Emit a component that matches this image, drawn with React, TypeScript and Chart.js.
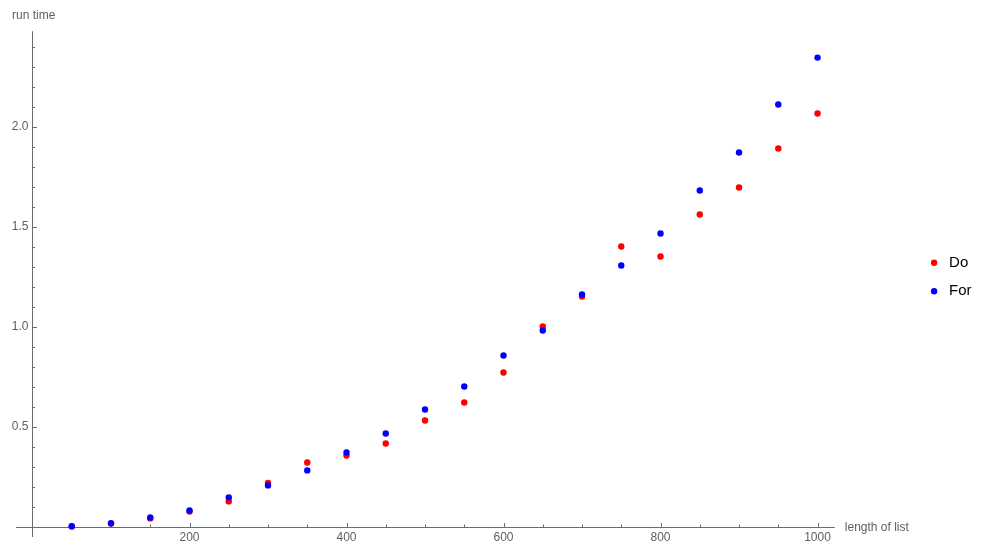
import { useEffect, useRef } from 'react';
import { Chart, registerables } from 'chart.js';

Chart.register(...registerables);

// ---- data ----
const listLengths = [50, 100, 150, 200, 250, 300, 350, 400, 450, 500, 550, 600, 650, 700, 750, 800, 850, 900, 950, 1000];
const doTimes = [0.003, 0.017, 0.043, 0.077, 0.128, 0.22, 0.323, 0.358, 0.418, 0.533, 0.623, 0.773, 1.003, 1.153, 1.403, 1.353, 1.563, 1.698, 1.893, 2.068];
const forTimes = [0.004, 0.019, 0.048, 0.083, 0.148, 0.208, 0.283, 0.373, 0.468, 0.588, 0.703, 0.858, 0.983, 1.163, 1.308, 1.468, 1.683, 1.873, 2.113, 2.348];
const seriesNames = ['Do', 'For'];
const xTickValues = [50, 100, 150, 200, 250, 300, 350, 400, 450, 500, 550, 600, 650, 700, 750, 800, 850, 900, 950, 1000];
const xLabelValues = [200, 400, 600, 800, 1000];
const yTickValues = [0.1, 0.2, 0.3, 0.4, 0.5, 0.6, 0.7, 0.8, 0.9, 1.0, 1.1, 1.2, 1.3, 1.4, 1.5, 1.6, 1.7, 1.8, 1.9, 2.0, 2.1, 2.2, 2.3, 2.4];
const yLabelValues = [0.5, 1.0, 1.5, 2.0];
const xAxisLabel = 'length of list';
const yAxisLabel = 'run time';
const xAxisExtent = [-21, 1022];
const yAxisExtent = [-0.05, 2.48];

const AXIS_COLOR = '#6b6b6b';
const TEXT_COLOR = '#5f5f5f';
const FONT_FAMILY = '"Liberation Sans", Arial, Helvetica, sans-serif';

const isLabelled = (v: number, list: number[]) => list.some((l) => Math.abs(l - v) < 1e-9);

const axesPlugin = {
  id: 'mmaAxes',
  beforeDatasetsDraw(chart: any) {
    const { ctx } = chart;
    const xs = chart.scales.x;
    const ys = chart.scales.y;
    const x0 = Math.floor(xs.getPixelForValue(0)) + 0.5;
    const y0 = Math.floor(ys.getPixelForValue(0)) + 0.5;
    ctx.save();
    ctx.strokeStyle = AXIS_COLOR;
    ctx.lineWidth = 1;
    ctx.beginPath();
    ctx.moveTo(xs.getPixelForValue(xAxisExtent[0]), y0);
    ctx.lineTo(xs.getPixelForValue(xAxisExtent[1]), y0);
    ctx.moveTo(x0, ys.getPixelForValue(yAxisExtent[0]));
    ctx.lineTo(x0, ys.getPixelForValue(yAxisExtent[1]));
    xTickValues.forEach((v) => {
      const px = Math.round(xs.getPixelForValue(v)) + 0.5;
      const len = isLabelled(v, xLabelValues) ? 4.5 : 3;
      ctx.moveTo(px, y0);
      ctx.lineTo(px, y0 - len);
    });
    yTickValues.forEach((v) => {
      const py = Math.round(ys.getPixelForValue(v)) + 0.5;
      const len = isLabelled(v, yLabelValues) ? 4.5 : 2.5;
      ctx.moveTo(x0, py);
      ctx.lineTo(x0 + len, py);
    });
    ctx.stroke();
    ctx.fillStyle = TEXT_COLOR;
    ctx.font = `12px ${FONT_FAMILY}`;
    ctx.textBaseline = 'middle';
    ctx.textAlign = 'left';
    ctx.fillText(yAxisLabel, 12, 16);
    ctx.fillText(xAxisLabel, xs.getPixelForValue(xAxisExtent[1]) + 10, y0);
    ctx.restore();
  },
};

export default function App() {
  const canvasRef = useRef<HTMLCanvasElement | null>(null);

  useEffect(() => {
    const canvas = canvasRef.current;
    if (!canvas) return;
    const chart = new Chart(canvas, {
      type: 'scatter',
      data: {
        datasets: [
          {
            label: seriesNames[0],
            data: listLengths.map((x, i) => ({ x, y: doTimes[i] })),
            backgroundColor: '#ff0000',
            borderColor: '#ff0000',
            borderWidth: 0,
            pointRadius: 3.2,
            pointHoverRadius: 3.2,
            pointStyle: 'circle',
            clip: false,
            order: 2,
          },
          {
            label: seriesNames[1],
            data: listLengths.map((x, i) => ({ x, y: forTimes[i] })),
            backgroundColor: '#0000ff',
            borderColor: '#0000ff',
            borderWidth: 0,
            pointRadius: 3.2,
            pointHoverRadius: 3.2,
            pointStyle: 'circle',
            clip: false,
            order: 1,
          },
        ],
      },
      options: {
        responsive: false,
        animation: false,
        events: [],
        layout: { padding: { left: 0, top: 11, right: 4.4, bottom: 16 } },
        scales: {
          x: {
            type: 'linear',
            position: 'bottom',
            min: 0,
            max: 1121.6,
            bounds: 'data',
            grid: { display: false, drawTicks: false },
            border: { display: false },
            afterBuildTicks: (scale: any) => {
              scale.ticks = xTickValues.map((value) => ({ value }));
            },
            afterFit: (scale: any) => {
              scale.height = 16;
            },
            ticks: {
              padding: 3,
              autoSkip: false,
              maxRotation: 0,
              color: TEXT_COLOR,
              font: { family: FONT_FAMILY, size: 12 },
              callback: (v: any) => (isLabelled(Number(v), xLabelValues) ? String(v) : ''),
            },
          },
          y: {
            type: 'linear',
            position: 'left',
            min: 0,
            max: 2.58,
            bounds: 'data',
            grid: { display: false, drawTicks: false },
            border: { display: false },
            afterBuildTicks: (scale: any) => {
              scale.ticks = yTickValues.map((value) => ({ value }));
            },
            afterFit: (scale: any) => {
              scale.width = 32.5;
            },
            ticks: {
              padding: 4,
              autoSkip: false,
              color: TEXT_COLOR,
              font: { family: FONT_FAMILY, size: 12 },
              callback: (v: any) => (isLabelled(Number(v), yLabelValues) ? Number(v).toFixed(1) : ''),
            },
          },
        },
        plugins: {
          legend: {
            display: true,
            position: 'right',
            labels: {
              usePointStyle: true,
              pointStyle: 'circle',
              boxWidth: 15,
              boxHeight: 4.5,
              padding: 13.6,
              color: '#000000',
              font: { family: FONT_FAMILY, size: 15 },
              sort: (a: any, b: any) => a.datasetIndex - b.datasetIndex,
            },
          },
          tooltip: { enabled: false },
          title: { display: false },
        },
      },
      plugins: [axesPlugin],
    });
    return () => chart.destroy();
  }, []);

  return (
    <div style={{ position: 'absolute', left: 0, top: 0, width: 986, height: 559, background: '#ffffff' }}>
      <canvas ref={canvasRef} width={986} height={559} />
    </div>
  );
}
